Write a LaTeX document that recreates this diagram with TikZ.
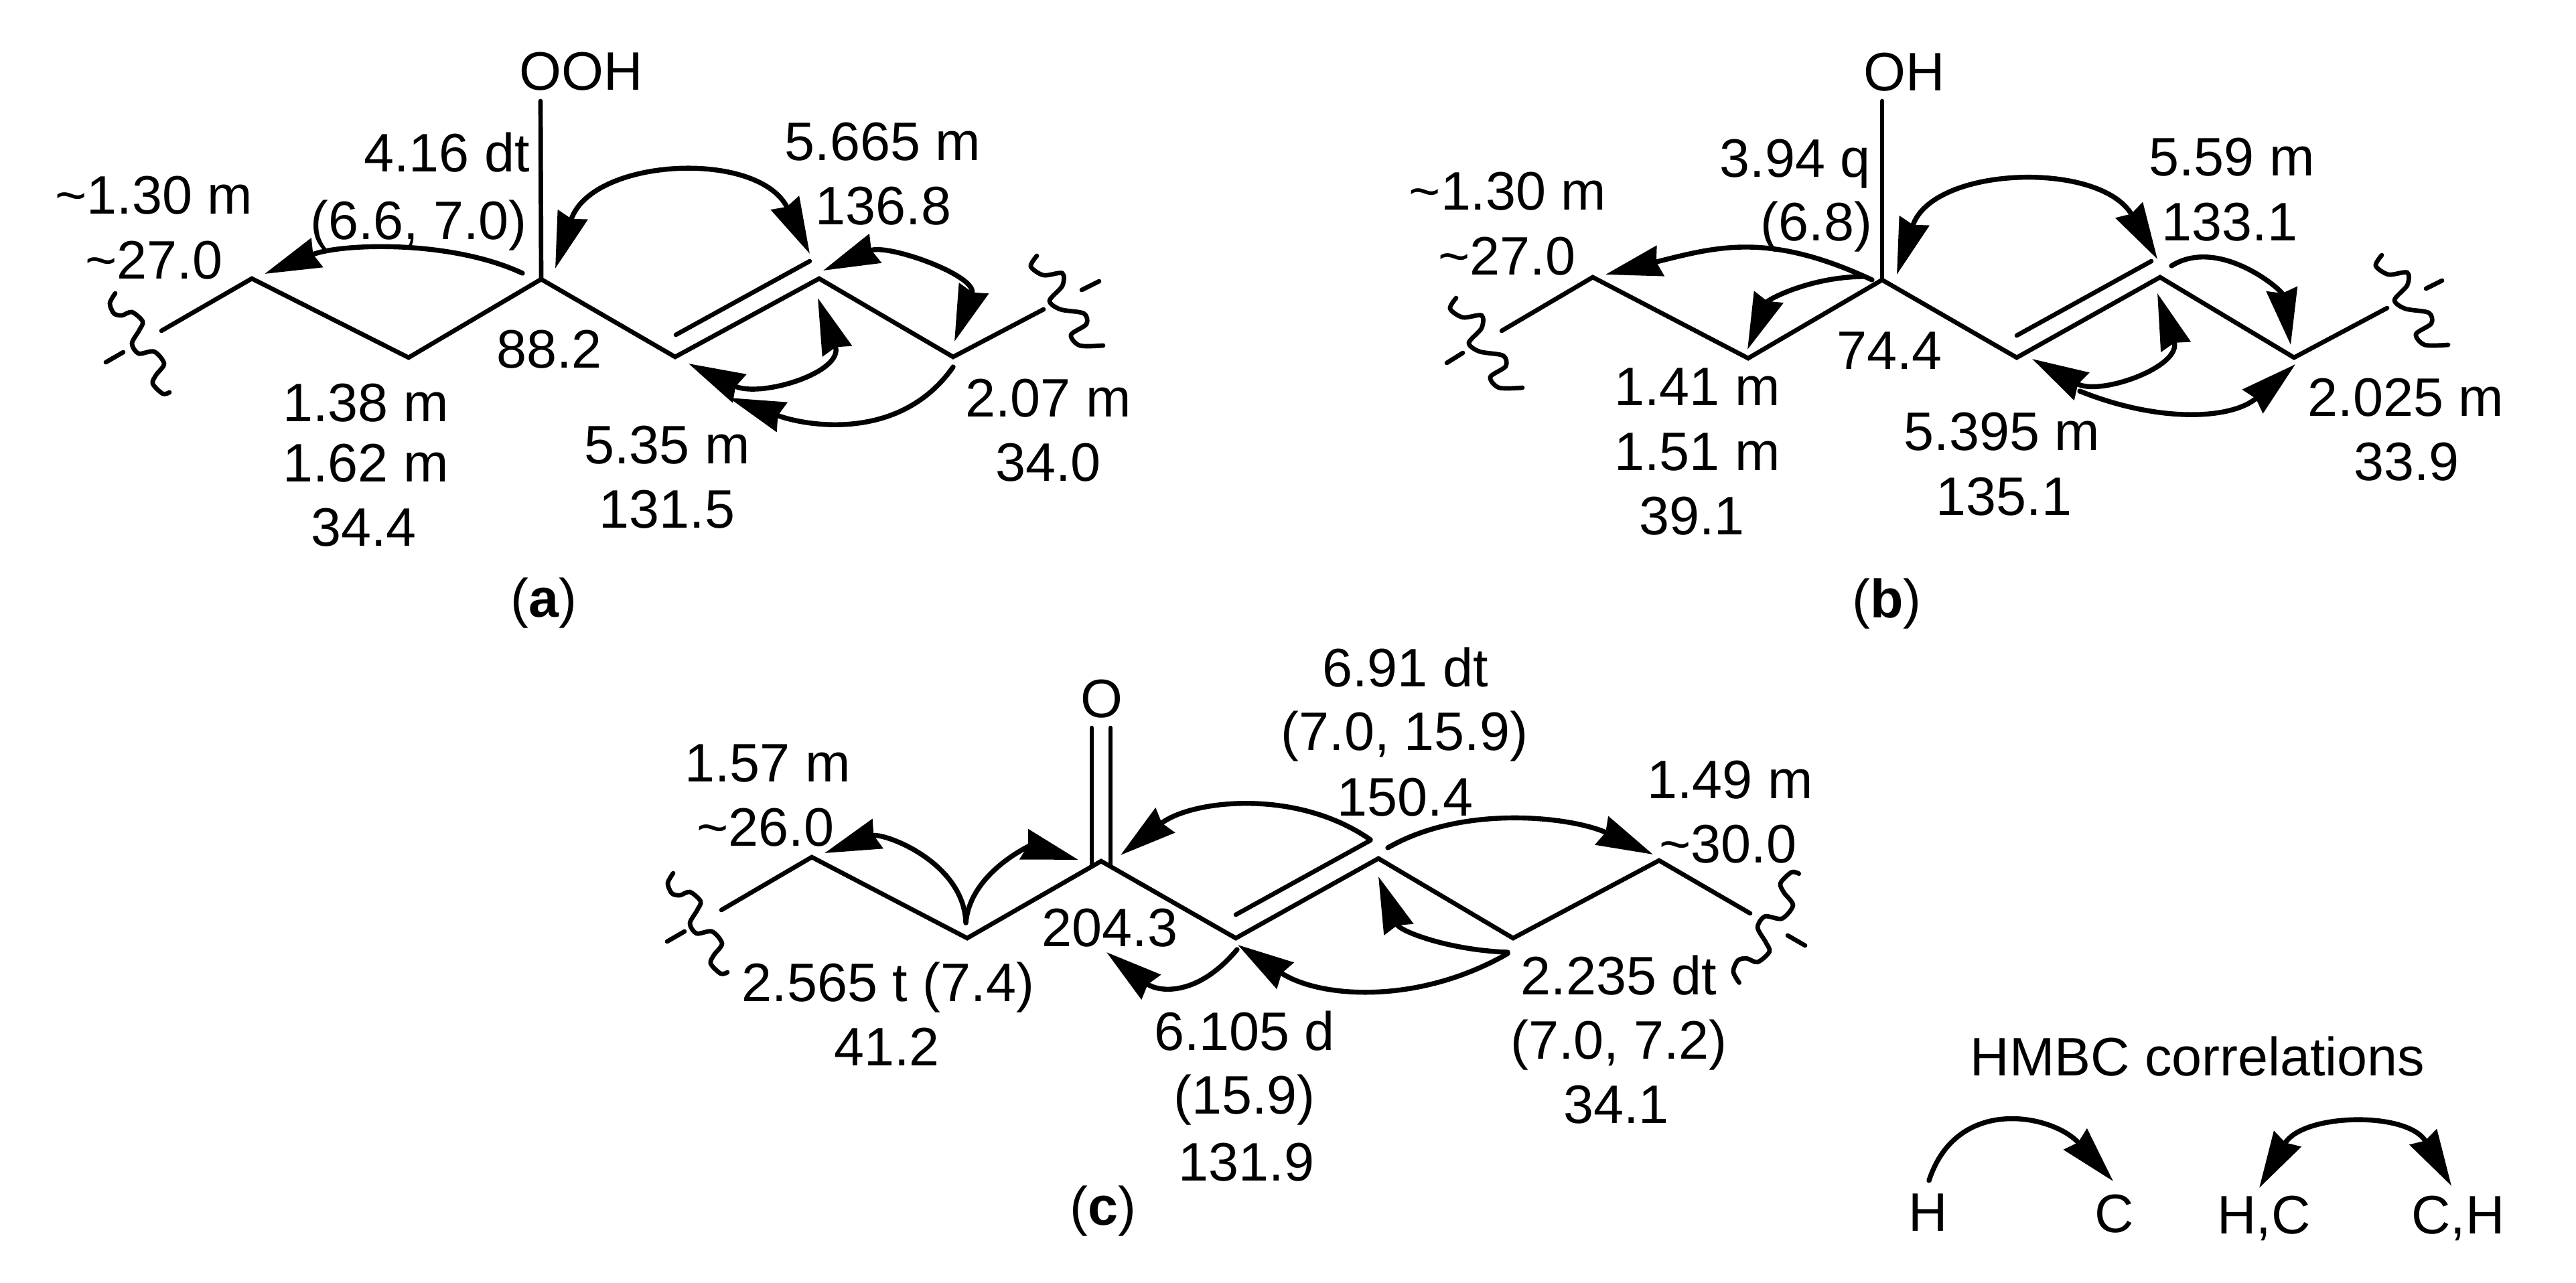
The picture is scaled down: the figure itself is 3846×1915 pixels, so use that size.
\documentclass[tikz,border=0pt]{standalone}
\usepackage{fontspec}
\setmainfont{Liberation Sans}
\usetikzlibrary{arrows.meta}
\tikzset{
bond/.style={line width=1.9pt,line cap=round},
lab/.style={font=\fontsize{23}{27}\selectfont,inner sep=0pt,text height=.58cm,text depth=0pt},
hmbc/.style={->,>={Stealth[length=.84cm,width=.46cm,inset=.06cm]},line width=2.1pt,line cap=round},
wavy/.pic={\draw[bond] plot[smooth] coordinates {(-34,-75) (-42,-60) (-36,-45) (-24,-42) (-9,-47) (7,-33) (2,-20) (-9,0) (1,15) (24,12) (39,30) (27,47) (22,60) (37,75) (47,73)};},
wavyflat/.pic={\draw[bond] plot[smooth] coordinates {(-38,-68) (-47,-52) (-28,-39) (0,-42) (0,-23) (-19,-1) (-3,12) (32,18) (36,34) (13,50) (26,66) (61,66)};}
}
\begin{document}
\begin{tikzpicture}[x=.01cm,y=-.01cm]
\useasboundingbox (0,0) rectangle (3846,1915);
\coordinate (a1) at (241,494);
\coordinate (a2) at (376,416);
\coordinate (a3) at (610,534);
\coordinate (a4) at (808,417);
\coordinate (a5) at (1008,533);
\coordinate (a6) at (1223,416);
\coordinate (a7) at (1423,533);
\coordinate (a8) at (1558,462);
\coordinate (a9) at (1009,500);
\coordinate (a10) at (1209,390);
\coordinate (a11) at (807,151);
\draw[bond] (a1) -- (a2) -- (a3) -- (a4) -- (a5) -- (a6) -- (a7) -- (a8);
\draw[bond] (a9) -- (a10);
\draw[bond] (a4) -- (a11);
\pic at (206,513) {wavy};
\pic at (1586,450) {wavyflat};
\draw[bond] (158,541) -- (184,526);
\draw[bond] (1641,420) -- (1615,433);
\node[lab] (aOOH) at (868,105) {OOH};
\node[lab] (aH1) at (667,227) {4.16 dt};
\node[lab] (aH2) at (625,328) {(6.6, 7.0)};
\node[lab] (aL1) at (230,290) {\textasciitilde1.30 m};
\node[lab] (aL2) at (230,387) {\textasciitilde27.0};
\node[lab] (aU1) at (1318,210) {5.665 m};
\node[lab] (aU2) at (1319,306) {136.8};
\node[lab] (aC) at (820,520) {88.2};
\node[lab] (aD1) at (546,600) {1.38 m};
\node[lab] (aD2) at (546,690) {1.62 m};
\node[lab] (aD3) at (543,786) {34.4};
\node[lab] (aV1) at (996,663) {5.35 m};
\node[lab] (aV2) at (996,759) {131.5};
\node[lab] (aR1) at (1565,593) {2.07 m};
\node[lab] (aR2) at (1565,689) {34.0};
\node[lab] (aT) at (812,892) {(\textbf{a})};
\coordinate (aS1) at (780,408);
\coordinate (aE1) at (395,409);
\coordinate (aS2) at (829,401);
\coordinate (aE2) at (1209,379);
\coordinate (aS3) at (1229,404);
\coordinate (aE3) at (1425,510);
\coordinate (aS4) at (1221,445);
\coordinate (aE4) at (1028,543);
\coordinate (aS5) at (1423,548);
\coordinate (aE5) at (1088,594);
\path[hmbc]
(aS1) edge[out=155,in=22,looseness=.8] (aE1)
(aS2) edge[<->,out=72,in=116,looseness=1.17] (aE2)
(aS3) edge[<->,out=23,in=70,looseness=1.2] (aE3)
(aS4) edge[<->,out=-70,in=-26,looseness=1.4] (aE4)
(aS5) edge[out=-125,in=-20] (aE5);
\coordinate (b1) at (2242,494);
\coordinate (b2) at (2378,414);
\coordinate (b3) at (2610,535);
\coordinate (b4) at (2810,418);
\coordinate (b5) at (3011,534);
\coordinate (b6) at (3225,414);
\coordinate (b7) at (3425,534);
\coordinate (b8) at (3564,460);
\coordinate (b9) at (3011,501);
\coordinate (b10) at (3212,390);
\coordinate (b11) at (2810,151);
\draw[bond] (b1) -- (b2) -- (b3) -- (b4) -- (b5) -- (b6) -- (b7) -- (b8);
\draw[bond] (b9) -- (b10);
\draw[bond] (b4) -- (b11);
\pic at (2212,513) {wavyflat};
\pic at (3594,449) {wavyflat};
\draw[bond] (2160,542) -- (2184,527);
\draw[bond] (3646,419) -- (3622,431);
\node[lab] (bOH) at (2843,106) {OH};
\node[lab] (bH1) at (2680,235) {3.94 q};
\node[lab] (bH2) at (2712,330) {(6.8)};
\node[lab] (bL1) at (2251,284) {\textasciitilde1.30 m};
\node[lab] (bL2) at (2250,381) {\textasciitilde27.0};
\node[lab] (bU1) at (3332,233) {5.59 m};
\node[lab] (bU2) at (3329,330) {133.1};
\node[lab] (bC) at (2821,522) {74.4};
\node[lab] (bD1) at (2534,576) {1.41 m};
\node[lab] (bD2) at (2534,673) {1.51 m};
\node[lab] (bD3) at (2526,769) {39.1};
\node[lab] (bV1) at (2989,643) {5.395 m};
\node[lab] (bV2) at (2992,740) {135.1};
\node[lab] (bR1) at (3592,592) {2.025 m};
\node[lab] (bR2) at (3593,688) {33.9};
\node[lab] (bT) at (2817,893) {(\textbf{b})};
\coordinate (bS1) at (2795,418);
\coordinate (bE1) at (2397,410);
\coordinate (bS2) at (2784,413);
\coordinate (bE2) at (2609,522);
\coordinate (bS3) at (2832,410);
\coordinate (bE3) at (3221,387);
\coordinate (bS4) at (3242,397);
\coordinate (bE4) at (3420,515);
\coordinate (bS5) at (3221,438);
\coordinate (bE5) at (3034,536);
\coordinate (bS6) at (3105,584);
\coordinate (bE6) at (3427,544);
\path[hmbc]
(bS1) edge[out=155,in=14,looseness=1.1] (bE1)
(bS2) edge[out=180,in=68] (bE2)
(bS3) edge[<->,out=72,in=120,looseness=1.12] (bE3)
(bS4) edge[out=32,in=99] (bE4)
(bS5) edge[<->,out=-71,in=-29,looseness=1.4] (bE5)
(bS6) edge[out=-22,in=-139] (bE6);
\coordinate (c1) at (1077,1359);
\coordinate (c2) at (1212,1280);
\coordinate (c3) at (1444,1401);
\coordinate (c4) at (1644,1286);
\coordinate (c5) at (1845,1401);
\coordinate (c6) at (2058,1282);
\coordinate (c7) at (2259,1401);
\coordinate (c8) at (2477,1285);
\coordinate (c9) at (2613,1364);
\coordinate (c10) at (1845,1366);
\coordinate (c11) at (2046,1255);
\coordinate (c12) at (1630,1087);
\coordinate (c13) at (1630,1293);
\coordinate (c14) at (1658,1087);
\coordinate (c15) at (1658,1293);
\draw[bond] (c1) -- (c2) -- (c3) -- (c4) -- (c5) -- (c6) -- (c7) -- (c8) -- (c9);
\draw[bond] (c10) -- (c11);
\draw[bond] (c12) -- (c13);
\draw[bond] (c14) -- (c15);
\pic at (1039,1379) {wavy};
\pic[xscale=1.1,yscale=-1.1] at (2634,1385) {wavy};
\draw[bond] (996,1406) -- (1022,1391);
\draw[bond] (2669,1397) -- (2695,1412);
\node[lab] (cO) at (1645,1042) {O};
\node[lab] (cL1) at (1146,1138) {1.57 m};
\node[lab] (cL2) at (1143,1234) {\textasciitilde26.0};
\node[lab] (cU1) at (2098,996) {6.91 dt};
\node[lab] (cU2) at (2097,1091) {(7.0, 15.9)};
\node[lab] (cU3) at (2098,1189) {150.4};
\node[lab] (cR1) at (2583,1163) {1.49 m};
\node[lab] (cR2) at (2580,1259) {\textasciitilde30.0};
\node[lab] (cC) at (1657,1384) {204.3};
\node[lab] (cD1) at (1326,1466) {2.565 t (7.4)};
\node[lab] (cD2) at (1324,1562) {41.2};
\node[lab] (cV1) at (1858,1539) {6.105 d};
\node[lab] (cV2) at (1858,1634) {(15.9)};
\node[lab] (cV3) at (1861,1734) {131.9};
\node[lab] (cW1) at (2417,1456) {2.235 dt};
\node[lab] (cW2) at (2417,1552) {(7.0, 7.2)};
\node[lab] (cW3) at (2413,1648) {34.1};
\node[lab] (cT) at (1647,1800) {(\textbf{c})};
\coordinate (cS1) at (1442,1378);
\coordinate (cE1) at (1231,1274);
\coordinate (cE2) at (1610,1284);
\coordinate (cS3) at (2046,1254);
\coordinate (cE3) at (1673,1277);
\coordinate (cS4) at (2072,1266);
\coordinate (cE4) at (2468,1276);
\coordinate (cS5) at (2251,1422);
\coordinate (cE5) at (2058,1309);
\coordinate (cS6) at (2251,1424);
\coordinate (cE6) at (1848,1411);
\coordinate (cS7) at (1847,1418);
\coordinate (cE7) at (1652,1422);
\path[hmbc]
(cS1) edge[out=92,in=20] (cE1)
(cS1) edge[out=85,in=164] (cE2)
(cS3) edge[out=145,in=38,looseness=.92] (cE3)
(cS4) edge[out=30,in=155,looseness=.85] (cE4)
(cS5) edge[out=178,in=-69] (cE5)
(cS6) edge[out=-150,in=-33,looseness=.95] (cE6)
(cS7) edge[out=-130,in=-38,looseness=1.25] (cE7);
\node[lab] (kT) at (3281,1577) {HMBC correlations};
\node[lab] (kH) at (2879,1809) {H};
\node[lab] (kC) at (3157,1811) {C};
\node[lab] (kHC) at (3380,1813) {H,C};
\node[lab] (kCH) at (3670,1813) {C,H};
\coordinate (kS1) at (2880,1763);
\coordinate (kE1) at (3155,1764);
\coordinate (kS2) at (3373,1774);
\coordinate (kE2) at (3660,1771);
\path[hmbc]
(kS1) edge[out=72,in=132,looseness=1.25] (kE1)
(kS2) edge[<->,out=60,in=120,looseness=1.15] (kE2);
\end{tikzpicture}
\end{document}
